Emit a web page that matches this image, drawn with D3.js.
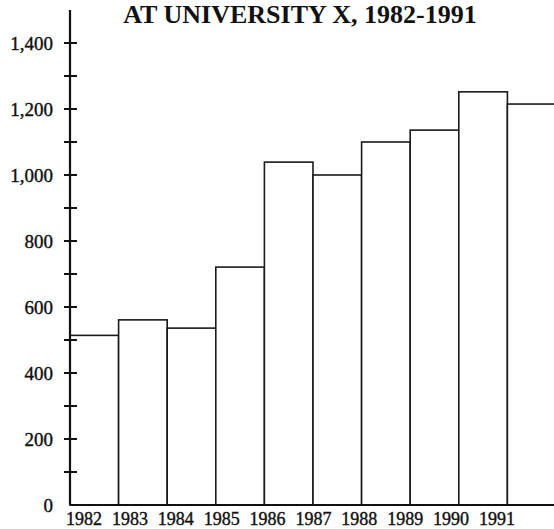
<!DOCTYPE html>
<html>
<head>
<meta charset="utf-8">
<script src="https://cdn.jsdelivr.net/npm/d3@7"></script>
<style>
    body { margin: 0; background: #fff; }
    svg { display: block; }
    .axis-label { font-family: "Liberation Serif", "Times New Roman", serif; fill: #111; }
</style>
</head>
<body>
<div id="chart"></div>
<script>
// chart data
var years = ["1982", "1983", "1984", "1985", "1986", "1987", "1988", "1989", "1990", "1991"];
var enrolment = [514, 561, 536, 721, 1039, 1000, 1100, 1136, 1252, 1215];
var yTickLabels = ["0", "200", "400", "600", "800", "1,000", "1,200", "1,400"];
var titleText = "AT UNIVERSITY X, 1982-1991";

var width = 554, height = 529;

var svg = d3.select("#chart")
    .append("svg")
    .attr("width", width)
    .attr("height", height);

var xscale = d3.scaleBand()
    .domain(years)
    .range([70, 556])
    .paddingInner(0);

// year labels sit a bit tighter than the bars
var labelScale = d3.scalePoint()
    .domain(years)
    .range([84, 497]);

var yscale = d3.scaleLinear()
    .domain([0, 1500])
    .range([505, 10]);

var data = years.map(function (y, i) { return { year: y, value: enrolment[i] }; });

// bars
svg.append("g")
    .selectAll("rect")
    .data(data)
    .enter()
    .append("rect")
    .attr("x", function (d) { return xscale(d.year); })
    .attr("y", function (d) { return yscale(d.value); })
    .attr("width", xscale.bandwidth())
    .attr("height", function (d) { return yscale(0) - yscale(d.value); })
    .style("fill", "#fff")
    .style("stroke", "#1a1a1a")
    .style("stroke-width", 1.6);

// y axis line
svg.append("line")
    .attr("x1", xscale.range()[0]).attr("x2", xscale.range()[0])
    .attr("y1", yscale(1500)).attr("y2", yscale(0))
    .style("stroke", "#111")
    .style("stroke-width", 2.2);

// x baseline
svg.append("line")
    .attr("x1", xscale.range()[0]).attr("x2", width)
    .attr("y1", yscale(0)).attr("y2", yscale(0))
    .style("stroke", "#111")
    .style("stroke-width", 2.2);

// ticks every 100, crossing the axis
var tickVals = d3.range(100, 1500, 100);
svg.append("g")
    .selectAll("line")
    .data(tickVals)
    .enter()
    .append("line")
    .attr("x1", xscale.range()[0] - 6)
    .attr("x2", xscale.range()[0] + 7)
    .attr("y1", function (d) { return yscale(d); })
    .attr("y2", function (d) { return yscale(d); })
    .style("stroke", "#111")
    .style("stroke-width", 2);

// y labels
svg.append("g")
    .selectAll("text")
    .data(yTickLabels)
    .enter()
    .append("text")
    .attr("class", "axis-label")
    .attr("x", 53)
    .attr("y", function (d, i) { return yscale(i * 200); })
    .attr("dy", "0.35em")
    .attr("text-anchor", "end")
    .style("font-size", "19px")
    .style("stroke", "#111")
    .style("stroke-width", 0.4)
    .text(function (d) { return d; });

// x labels
svg.append("g")
    .selectAll("text")
    .data(years)
    .enter()
    .append("text")
    .attr("class", "axis-label")
    .attr("x", function (d) { return labelScale(d); })
    .attr("y", 525)
    .attr("text-anchor", "middle")
    .style("font-size", "18px")
    .style("stroke", "#111")
    .style("stroke-width", 0.4)
    .text(function (d) { return d; });

// title (sits at the very top edge, as in the original scan)
svg.append("text")
    .attr("class", "axis-label")
    .attr("x", 300)
    .attr("y", 23)
    .attr("text-anchor", "middle")
    .style("font-size", "26px")
    .style("font-weight", "bold")
    .text(titleText);
</script>
</body>
</html>
